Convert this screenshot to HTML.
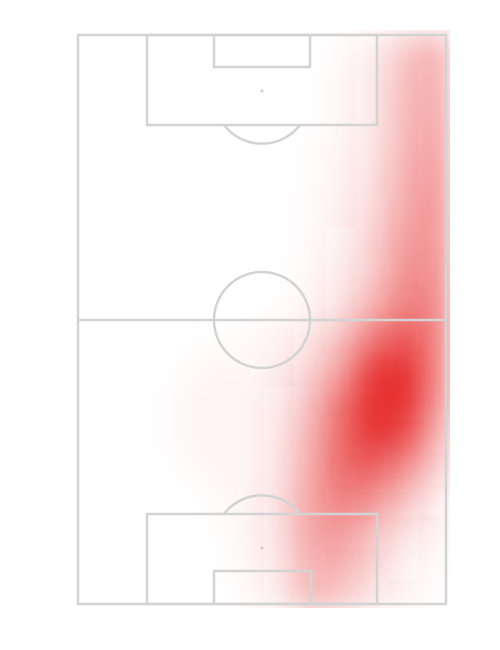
<!DOCTYPE html>
<html><head><meta charset="utf-8"><style>
html,body{margin:0;padding:0;background:#fff;}
svg{display:block;}
</style></head><body>
<svg id="chart" width="500" height="650">
<defs>
<filter id="blur" filterUnits="userSpaceOnUse" x="0" y="0" width="500" height="650"><feGaussianBlur stdDeviation="13"/></filter>
<clipPath id="clip"><rect x="78" y="30" width="372" height="578"/></clipPath>
</defs>
<g id="heat" clip-path="url(#clip)"><g id="heatInner" filter="url(#blur)"></g></g>
<g fill="none" stroke="#d3d3d3" stroke-width="2.5">
<rect x="78" y="35" width="368" height="569"/>
<line x1="78" y1="320" x2="446" y2="320"/>
<circle cx="262" cy="320" r="48"/>
<rect x="147" y="35" width="230" height="90"/>
<rect x="214" y="35" width="96" height="32"/>
<path d="M224 125 A48 48 0 0 0 300 125"/>
<rect x="147" y="514" width="230" height="90"/>
<rect x="214" y="571" width="97" height="33"/>
<path d="M224 514 A48 48 0 0 1 300 514"/>
</g>
<circle cx="262" cy="91" r="1.5" fill="#ccc"/>
<circle cx="262" cy="548" r="1.5" fill="#ccc"/>
</svg>
<script>
const colCenters = [93,124,155,186,217,248,279,310,341,372,403,434];
const rowCenters = [51,83,115,147,179,211,243,275,307,339,371,403,435,467,499,531,563,595];
const density = [
[0,0,0,0,0,0,0,0,.02,.08,.25,.35],
[0,0,0,0,0,0,0,0,.03,.1,.3,.4],
[0,0,0,0,0,0,0,0,.03,.1,.3,.42],
[0,0,0,0,0,0,0,.01,.04,.12,.32,.45],
[0,0,0,0,0,0,0,.01,.05,.14,.35,.48],
[0,0,0,0,0,0,0,.02,.06,.17,.4,.5],
[0,0,0,0,0,0,0,.02,.08,.2,.45,.5],
[0,0,0,0,0,0,0,.03,.1,.25,.5,.55],
[0,0,0,0,0,0,.01,.04,.14,.35,.6,.58],
[0,0,0,0,.01,.02,.05,.12,.3,.62,.8,.6],
[0,0,0,.02,.03,.03,.07,.2,.45,.9,1,.6],
[0,0,0,.03,.04,.04,.1,.3,.65,1,1,.55],
[0,0,0,.03,.04,.04,.12,.35,.7,.95,.85,.4],
[0,0,0,.02,.03,.04,.13,.4,.7,.75,.55,.25],
[0,0,0,0,.02,.04,.15,.42,.6,.5,.3,.1],
[0,0,0,0,.01,.04,.15,.42,.48,.3,.15,.05],
[0,0,0,0,0,.03,.12,.38,.36,.2,.08,.02],
[0,0,0,0,0,.02,.1,.32,.26,.12,.04,.01]
];
const cw = 31, ch = 32;
const xPos = i => colCenters[i] - cw/2;
const yPos = j => rowCenters[j] - ch/2;
const g = document.getElementById('heatInner');
const NS = 'http://www.w3.org/2000/svg';
density.forEach((row, j) => row.forEach((v, i) => {
  if (v <= 0) return;
  const r = document.createElementNS(NS, 'rect');
  r.setAttribute('x', xPos(i));
  r.setAttribute('y', yPos(j));
  r.setAttribute('width', cw + 0.5);
  r.setAttribute('height', ch + 0.5);
  r.setAttribute('fill', 'rgb(230,45,45)');
  r.setAttribute('fill-opacity', Math.min(1, v));
  
  
  g.appendChild(r);
}));
</script>
</body></html>
